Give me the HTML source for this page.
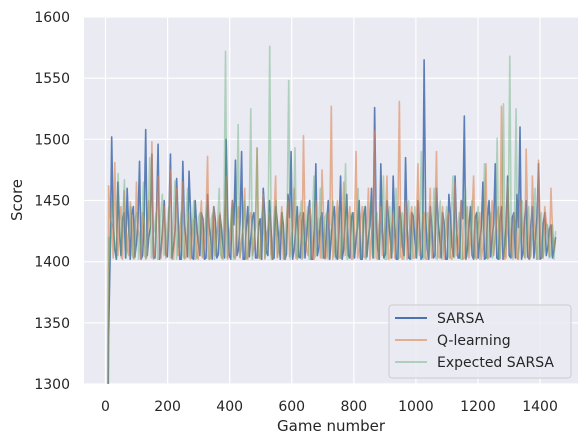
<!DOCTYPE html>
<html><head><meta charset="utf-8"><style>
html,body{margin:0;padding:0;background:#fff;overflow:hidden;width:588px;height:444px}
svg{display:block}
svg text{font-family:"DejaVu Sans","Liberation Sans",sans-serif;fill:#262626}
</style></head><body>
<svg id="chart" width="588" height="444" xmlns="http://www.w3.org/2000/svg">
<defs><clipPath id="clip"><rect x="84" y="17" width="494" height="367"/></clipPath></defs>
<rect x="84" y="17" width="494" height="367" fill="#eaeaf2"/>
<g id="grid"></g>
<g id="series" clip-path="url(#clip)"></g>
<g id="ticks"></g>
<text x="331" y="431" font-size="15" text-anchor="middle">Game number</text>
<text transform="translate(22,200) rotate(-90)" font-size="15" text-anchor="middle">Score</text>
<g>
<rect x="389" y="305" width="182" height="73" rx="3" fill="#eaeaf2" stroke="#cccccc" fill-opacity="0.8"/>
<g><line x1="395" y1="318" x2="427" y2="318" stroke="#4c72b0" stroke-width="2"/><text x="437" y="323" font-size="14">SARSA</text></g>
<g><line x1="395" y1="340" x2="427" y2="340" stroke="#dd8452" stroke-opacity="0.6" stroke-width="2"/><text x="437" y="345" font-size="14">Q-learning</text></g>
<g><line x1="395" y1="362" x2="427" y2="362" stroke="#55a868" stroke-opacity="0.4" stroke-width="2"/><text x="437" y="367" font-size="14">Expected SARSA</text></g>
</g>
</svg>
<script>
const xTicks=[0,200,400,600,800,1000,1200,1400];
const yTicks=[1300,1350,1400,1450,1500,1550,1600];
const maxGame=1450;
const sarsa=[1150,1340,1502,1410,1465,1405,1440,1460,1402,1445,1415,1482,1405,1508,1420,1488,1403,1496,1410,1450,1404,1488,1412,1468,1402,1482,1418,1474,1403,1450,1415,1440,1402,1455,1420,1445,1403,1438,1412,1500,1405,1450,1483,1410,1490,1402,1445,1420,1440,1403,1435,1460,1408,1450,1402,1445,1418,1440,1402,1455,1490,1410,1445,1403,1440,1420,1450,1402,1480,1412,1440,1403,1450,1420,1445,1402,1470,1410,1455,1403,1440,1418,1450,1402,1445,1420,1460,1526,1410,1480,1403,1450,1420,1470,1402,1445,1412,1485,1403,1440,1418,1450,1402,1565,1410,1445,1403,1460,1420,1440,1402,1455,1412,1470,1403,1450,1519,1410,1445,1402,1440,1418,1465,1403,1450,1420,1480,1402,1445,1412,1470,1403,1440,1455,1510,1408,1450,1402,1445,1420,1480,1403,1440,1412,1430,1410];
const sarsaFill=[1120,1404,1430,1402,1425,1435,1403,1428,1438,1404,1432,1402,1436,1405,1428,1403,1440,1402,1430,1406,1437,1403,1426,1433,1402,1431,1404,1440,1402,1428,1405,1435,1403,1429,1402,1434,1406,1427,1403,1437,1402,1430,1405,1433,1402,1428,1404,1436,1403,1430,1402,1438,1405,1427,1403,1434,1402,1430,1406,1436,1402,1428,1404,1432,1403,1438,1402,1427,1405,1435,1403,1430,1402,1437,1404,1428,1402,1433,1405,1436,1403,1429,1402,1438,1404,1430,1403,1434,1402,1427,1406,1436,1403,1430,1402,1435,1405,1428,1402,1437,1403,1431,1404,1436,1402,1428,1405,1434,1403,1430,1402,1438,1404,1427,1403,1435,1402,1430,1405,1436,1403,1428,1402,1437,1404,1431,1403,1434,1402,1429,1405,1436,1403,1428,1402,1435,1404,1430,1403,1437,1402,1431,1405,1427,1403,1420];
const qlearning=[1140,1462,1430,1481,1405,1445,1458,1410,1449,1403,1465,1420,1440,1402,1450,1498,1410,1470,1403,1445,1418,1475,1402,1460,1412,1465,1403,1440,1420,1435,1402,1450,1415,1486,1403,1445,1420,1440,1402,1470,1410,1450,1403,1445,1418,1460,1402,1440,1412,1493,1403,1455,1420,1440,1402,1470,1410,1445,1403,1450,1418,1460,1402,1440,1503,1410,1445,1403,1450,1420,1475,1402,1440,1527,1410,1450,1403,1465,1420,1445,1402,1490,1410,1445,1403,1460,1420,1507,1402,1445,1412,1470,1403,1440,1420,1531,1402,1450,1410,1445,1403,1480,1418,1440,1402,1460,1412,1490,1403,1445,1420,1440,1402,1465,1410,1450,1403,1445,1418,1470,1402,1440,1412,1480,1403,1450,1420,1445,1527,1402,1465,1410,1440,1403,1450,1420,1492,1402,1470,1412,1483,1403,1445,1420,1460,1410];
const qFill=[1130,1436,1403,1428,1434,1402,1430,1405,1437,1403,1427,1402,1433,1406,1429,1402,1436,1404,1428,1403,1435,1402,1430,1405,1438,1403,1427,1402,1434,1404,1430,1403,1436,1402,1428,1405,1433,1403,1437,1402,1429,1404,1435,1403,1428,1402,1436,1405,1430,1403,1434,1402,1427,1406,1437,1403,1430,1402,1435,1404,1428,1403,1436,1402,1431,1405,1434,1402,1428,1403,1437,1404,1430,1402,1435,1403,1428,1405,1436,1402,1430,1403,1434,1404,1427,1402,1437,1403,1431,1405,1435,1402,1428,1403,1436,1404,1430,1402,1434,1403,1428,1405,1437,1402,1430,1403,1435,1404,1427,1402,1436,1403,1431,1405,1434,1402,1428,1403,1437,1404,1430,1402,1435,1403,1428,1405,1436,1402,1431,1403,1434,1404,1427,1402,1437,1403,1430,1405,1435,1402,1428,1403,1433,1404,1426,1418];
const expectedSarsa=[1160,1420,1452,1410,1472,1403,1467,1420,1445,1402,1440,1412,1465,1403,1485,1420,1440,1402,1455,1410,1445,1403,1466,1418,1440,1402,1460,1412,1450,1403,1440,1420,1445,1402,1440,1410,1460,1403,1572,1420,1445,1402,1512,1410,1450,1403,1525,1420,1493,1402,1445,1412,1576,1403,1450,1420,1440,1402,1548,1410,1493,1403,1450,1420,1445,1402,1470,1412,1460,1403,1440,1420,1450,1402,1445,1410,1480,1403,1440,1420,1460,1402,1445,1412,1450,1403,1440,1420,1470,1402,1445,1410,1460,1403,1440,1420,1450,1402,1445,1412,1490,1403,1440,1420,1460,1402,1450,1410,1445,1403,1470,1420,1440,1402,1460,1412,1450,1403,1445,1420,1480,1402,1440,1410,1501,1403,1529,1420,1568,1402,1525,1412,1450,1403,1445,1420,1460,1402,1440,1410,1430,1405];
const esFill=[1110,1404,1434,1402,1430,1437,1403,1428,1405,1436,1402,1430,1404,1435,1403,1427,1402,1438,1405,1430,1403,1434,1402,1428,1406,1436,1403,1430,1402,1437,1404,1428,1403,1435,1402,1431,1405,1436,1403,1428,1402,1434,1404,1430,1403,1437,1402,1428,1405,1435,1403,1430,1402,1436,1404,1427,1403,1434,1402,1431,1405,1437,1403,1428,1402,1435,1404,1430,1403,1436,1402,1428,1405,1434,1403,1431,1402,1437,1404,1427,1403,1435,1402,1430,1405,1436,1403,1428,1402,1434,1404,1431,1403,1437,1402,1428,1405,1435,1403,1430,1402,1436,1404,1427,1403,1434,1402,1431,1405,1437,1403,1428,1402,1435,1404,1430,1403,1436,1402,1428,1405,1434,1403,1431,1402,1437,1404,1427,1403,1435,1402,1430,1405,1436,1403,1428,1402,1434,1404,1431,1403,1430,1402,1425];
const X=v=>105.5+v*0.3104;
const Y=v=>384-(v-1300)*367/300;
const NS='http://www.w3.org/2000/svg';
const grid=document.getElementById('grid'),ticks=document.getElementById('ticks'),ser=document.getElementById('series');
function mk(t,a,p){const e=document.createElementNS(NS,t);for(const k in a)e.setAttribute(k,a[k]);p.appendChild(e);return e;}
xTicks.forEach(t=>{
 const l=mk('line',{x1:X(t),x2:X(t),y1:17,y2:384,stroke:'#fff','stroke-width':1.2},grid);
 
 
 const tx=mk('text',{x:X(t),y:411,'font-size':14,'text-anchor':'middle'},ticks);tx.textContent=t;
 
 
});
yTicks.forEach(t=>{
 const l=mk('line',{x1:84,x2:578,y1:Y(t),y2:Y(t),stroke:'#fff','stroke-width':1.2},grid);
 
 
 const tx=mk('text',{x:70,y:Y(t)+5,'font-size':14,'text-anchor':'end'},ticks);tx.textContent=t;
 
 
});
function interleave(a,b){const r=[];for(let i=0;i<Math.max(a.length,b.length);i++){if(i<a.length)r.push(a[i]);if(i<b.length)r.push(b[i]);}return r;}
function draw(arr,color,op,name){
 const n=arr.length;
 const d=arr.map((v,i)=>(i?'L':'M')+X(i*maxGame/(n-1)).toFixed(2)+','+Y(v).toFixed(2)).join('');
 const p=mk('path',{d:d,fill:'none',stroke:color,'stroke-opacity':op,'stroke-width':1.6,'stroke-linejoin':'round'},ser);
 
 
}
draw(interleave(sarsa,sarsaFill),'#4c72b0',0.9,'sarsa-line');
draw(interleave(qlearning,qFill),'#dd8452',0.6,'q-learning-line');
draw(interleave(expectedSarsa,esFill),'#55a868',0.4,'expected-sarsa-line');
</script>
</body></html>
